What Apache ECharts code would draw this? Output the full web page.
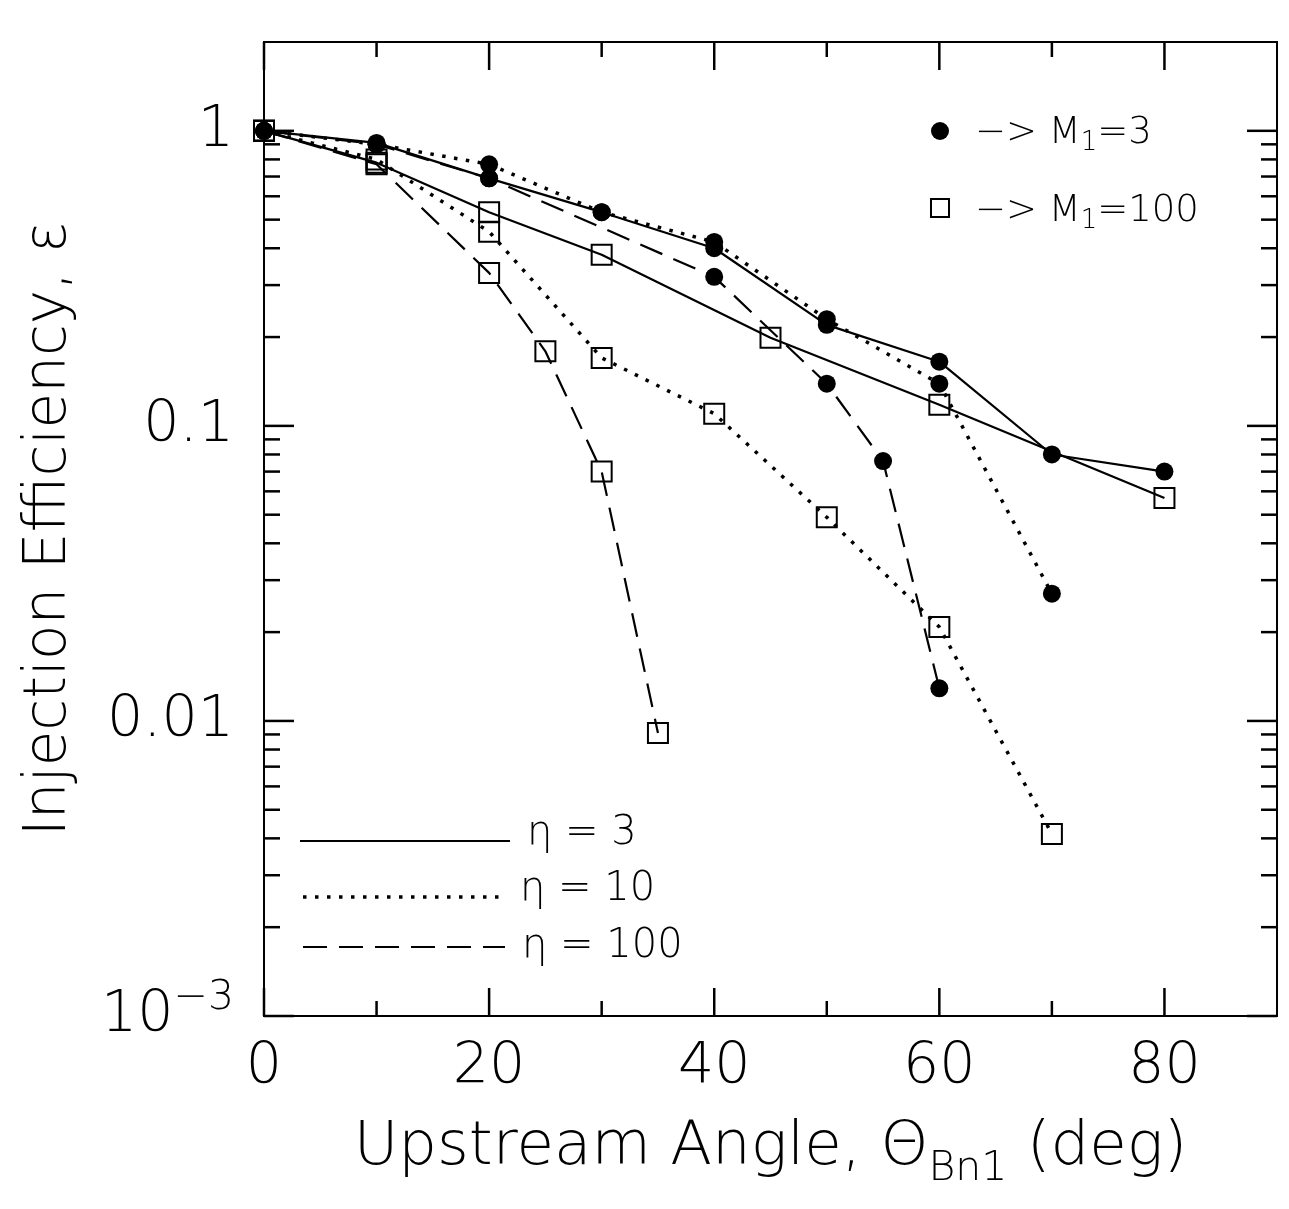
<!DOCTYPE html>
<html>
<head>
<meta charset="utf-8">
<script src="https://cdn.jsdelivr.net/npm/echarts@6/dist/echarts.min.js"></script>
<style>
html,body{margin:0;padding:0;background:#fff;}
#chart{width:1289px;height:1209px;}
</style>
</head>
<body>
<div id="chart"></div>
<script>
// ---- data ----
// M1 = 3 (filled circles)
const m3Eta3X   = [0, 10, 20, 30, 40, 50, 60, 70, 80];
const m3Eta3Y   = [1, 0.91, 0.69, 0.53, 0.40, 0.22, 0.165, 0.080, 0.070];
const m3Eta10X  = [0, 10, 20, 30, 40, 50, 60, 70];
const m3Eta10Y  = [1, 0.90, 0.77, 0.53, 0.42, 0.23, 0.139, 0.027];
const m3Eta100X = [0, 10, 20, 40, 50, 55, 60];
const m3Eta100Y = [1, 0.90, 0.69, 0.32, 0.139, 0.076, 0.0129];
// M1 = 100 (open squares)
const m100Eta3X   = [0, 10, 20, 30, 45, 60, 80];
const m100Eta3Y   = [1, 0.78, 0.53, 0.38, 0.199, 0.118, 0.057];
const m100Eta10X  = [0, 10, 20, 30, 40, 50, 60, 70];
const m100Eta10Y  = [1, 0.80, 0.455, 0.170, 0.110, 0.049, 0.0208, 0.00414];
const m100Eta100X = [0, 10, 20, 25, 30, 35];
const m100Eta100Y = [1, 0.77, 0.33, 0.179, 0.070, 0.0091];

// axis ticks
const xMajorTicks = [0, 20, 40, 60, 80];
const xMinorTicks = [10, 30, 50, 70];
const yMajorTicks = [0.001, 0.01, 0.1, 1];
const yMinorTicks = [0.002,0.003,0.004,0.005,0.006,0.007,0.008,0.009,
                     0.02,0.03,0.04,0.05,0.06,0.07,0.08,0.09,
                     0.2,0.3,0.4,0.5,0.6,0.7,0.8,0.9];
const yTickLabels = {'1':'1','0.1':'0.1','0.01':'0.01','0.001':'{b|10}{sup|−3}'};
const X_MIN = 0, X_MAX = 90, Y_MIN = 0.001, Y_MAX = 2;

const FONT = 'DejaVu Sans';
const FW = 200;
const zip = (xs, ys) => xs.map((x, i) => [x, ys[i]]);

const SOLID = 'solid';
const DOTTED = [3.5, 8.5];
const DASHED = [24, 12];

function lineSeries(name, xs, ys, type, marker) {
  const isDot = Array.isArray(type) && type[0] < 5;
  return {
    name, type: 'line', data: zip(xs, ys),
    xAxisIndex: 0, yAxisIndex: 0,
    symbol: marker === 'circle' ? 'circle' : 'rect',
    symbolSize: marker === 'circle' ? 18 : 20,
    showSymbol: true,
    itemStyle: marker === 'circle'
      ? {color: '#000', borderWidth: 0}
      : {color: 'rgba(255,255,255,0)', borderColor: '#000', borderWidth: 2},
    lineStyle: {color: '#000', width: isDot ? 3.5 : 2.2, type: type, cap: 'butt'},
    emphasis: {disabled: true},
    animation: false, z: marker === 'circle' ? 4 : 3
  };
}

const chart = echarts.init(document.getElementById('chart'));

const option = {
  backgroundColor: '#fff',
  animation: false,
  grid: {left: 264, right: 12, top: 42, bottom: 193, show: true,
         borderColor: '#000', borderWidth: 2, backgroundColor: 'transparent'},
  xAxis: {
    type: 'value', min: X_MIN, max: X_MAX, interval: 20,
    splitLine: {show: false},
    axisLine: {show: true, onZero: false, lineStyle: {color: '#000', width: 2}},
    axisTick: {show: false},
    axisLabel: {show: true, margin: 24, color: '#000', fontFamily: FONT, fontWeight: FW, fontSize: 57,
                showMaxLabel: false, formatter: v => xMajorTicks.indexOf(v) >= 0 ? String(v) : ''},
    name: 'Upstream Angle, Θ{sub|Bn1} (deg)',
    nameLocation: 'middle', nameGap: 102,
    nameTextStyle: {color: '#000', fontFamily: FONT, fontWeight: FW, fontSize: 61, verticalAlign: 'top', lineHeight: 61,
      rich: {sub: {fontFamily: FONT, fontWeight: FW, fontSize: 41, lineHeight: 41, verticalAlign: 'top', padding: [31, 0, 0, 0], color: '#000'}}}
  },
  yAxis: {
    type: 'log', logBase: 10, min: Y_MIN, max: Y_MAX,
    splitLine: {show: false},
    axisLine: {show: true, onZero: false, lineStyle: {color: '#000', width: 2}},
    axisTick: {show: false},
    axisLabel: {show: true, margin: 30, color: '#000', fontFamily: FONT, fontWeight: FW, fontSize: 57,
      showMaxLabel: false,
      formatter: v => {
        const k = String(+v.toPrecision(6));
        return yTickLabels[k] !== undefined ? yTickLabels[k] : '';
      },
      rich: {
        b: {fontFamily: FONT, fontWeight: FW, fontSize: 57, lineHeight: 57, verticalAlign: 'bottom', color: '#000'},
        sup: {fontFamily: FONT, fontWeight: FW, fontSize: 41, lineHeight: 41, verticalAlign: 'bottom', padding: [0, 0, 26, 0], color: '#000'}
      }},
    name: 'Injection Efficiency, ε',
    nameLocation: 'middle', nameGap: 185, nameRotate: 90,
    nameTextStyle: {color: '#000', fontFamily: FONT, fontWeight: FW, fontSize: 58}
  },
  series: [
    lineSeries('M1=3, eta=3',   m3Eta3X,   m3Eta3Y,   SOLID,  'circle'),
    lineSeries('M1=3, eta=10',  m3Eta10X,  m3Eta10Y,  DOTTED, 'circle'),
    lineSeries('M1=3, eta=100', m3Eta100X, m3Eta100Y, DASHED, 'circle'),
    lineSeries('M1=100, eta=3',   m100Eta3X,   m100Eta3Y,   SOLID,  'rect'),
    lineSeries('M1=100, eta=10',  m100Eta10X,  m100Eta10Y,  DOTTED, 'rect'),
    lineSeries('M1=100, eta=100', m100Eta100X, m100Eta100Y, DASHED, 'rect')
  ]
};
chart.setOption(option);

// ---- tick marks: positions come from the chart's own scales ----
const px = p => chart.convertToPixel({gridIndex: 0}, p);
const lo = px([X_MIN, Y_MIN]), hi = px([X_MAX, Y_MAX]);
const x0 = lo[0], x1 = hi[0], yB = lo[1], yT = hi[1];
const tickEls = [];
const tk = (a, b, c, d) => tickEls.push({type: 'line', zlevel: 1, z: 100,
  shape: {x1: a, y1: b, x2: c, y2: d}, style: {stroke: '#000', lineWidth: 2.5}});
const yTick = (v, len) => { const y = px([X_MIN, v])[1]; tk(x0, y, x0 + len, y); tk(x1 - len, y, x1, y); };
const xTick = (v, len) => { const x = px([v, Y_MIN])[0]; tk(x, yB, x, yB - len); tk(x, yT, x, yT + len); };
yMajorTicks.forEach(v => yTick(v, 30));
yMinorTicks.forEach(v => yTick(v, 16));
xMajorTicks.forEach(v => xTick(v, 28));
xMinorTicks.forEach(v => xTick(v, 15));

const legendEls = [
  // marker legend (top right)
  {type: 'circle', shape: {cx: 940, cy: 131, r: 9}, style: {fill: '#000'}},
  {type: 'text', x: 975, y: 133, style: {text: '−> M{s|1}=3', fill: '#000', fontFamily: FONT, fontWeight: FW, fontSize: 37, verticalAlign: 'middle',
    rich: {s: {fontSize: 26, fontWeight: FW, fontFamily: FONT, padding: [20, 0, 0, 0], verticalAlign: 'top', fill: '#000'}}}},
  {type: 'rect', shape: {x: 931, y: 199, width: 18, height: 18}, style: {fill: 'none', stroke: '#000', lineWidth: 2}},
  {type: 'text', x: 975, y: 211, style: {text: '−> M{s|1}=100', fill: '#000', fontFamily: FONT, fontWeight: FW, fontSize: 37, verticalAlign: 'middle',
    rich: {s: {fontSize: 26, fontWeight: FW, fontFamily: FONT, padding: [20, 0, 0, 0], verticalAlign: 'top', fill: '#000'}}}},
  // line-style legend (bottom left)
  {type: 'line', shape: {x1: 300, y1: 841, x2: 510, y2: 841}, style: {stroke: '#000', lineWidth: 2}},
  {type: 'line', shape: {x1: 303, y1: 897, x2: 500, y2: 897}, style: {stroke: '#000', lineWidth: 3.5, lineDash: DOTTED}},
  {type: 'line', shape: {x1: 303, y1: 947, x2: 505, y2: 947}, style: {stroke: '#000', lineWidth: 2.2, lineDash: DASHED}},
  {type: 'text', x: 527, y: 834, style: {text: 'η = 3', fill: '#000', fontFamily: FONT, fontWeight: FW, fontSize: 40, verticalAlign: 'middle'}},
  {type: 'text', x: 520, y: 890, style: {text: 'η = 10', fill: '#000', fontFamily: FONT, fontWeight: FW, fontSize: 40, verticalAlign: 'middle'}},
  {type: 'text', x: 522, y: 947, style: {text: 'η = 100', fill: '#000', fontFamily: FONT, fontWeight: FW, fontSize: 40, verticalAlign: 'middle'}}
];
chart.setOption({graphic: legendEls.concat(tickEls)});
</script>
</body>
</html>
